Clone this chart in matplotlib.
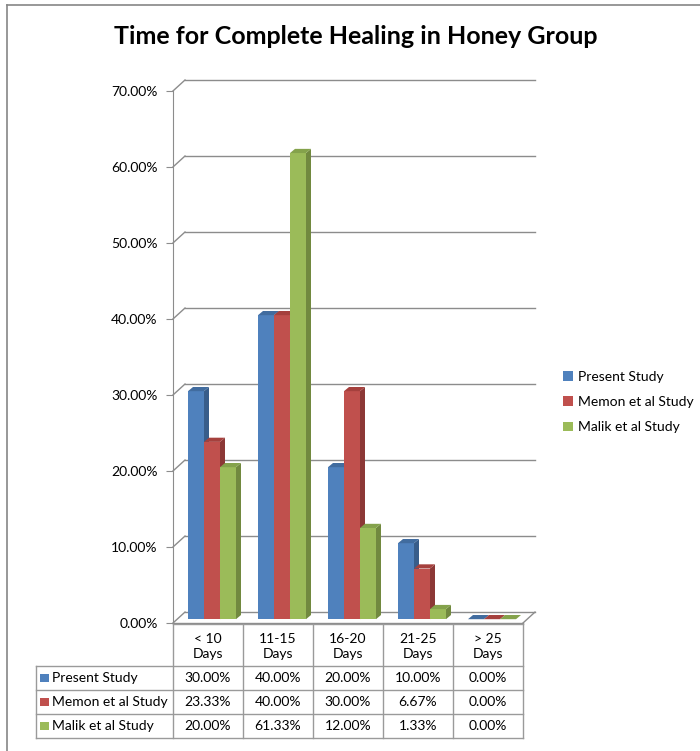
import matplotlib
matplotlib.use("Agg")
import matplotlib.pyplot as plt
from matplotlib.patches import Polygon, Rectangle
from matplotlib.lines import Line2D

plt.rcParams['font.family'] = ['Lato', 'DejaVu Sans']

# data
categories = ['< 10\nDays', '11-15\nDays', '16-20\nDays', '21-25\nDays', '> 25\nDays']
series_names = ['Present Study', 'Memon et al Study', 'Malik et al Study']
present = [30.00, 40.00, 20.00, 10.00, 0.00]
memon = [23.33, 40.00, 30.00, 6.67, 0.00]
malik = [20.00, 61.33, 12.00, 1.33, 0.00]
series_vals = [present, memon, malik]
yticks = [0, 10, 20, 30, 40, 50, 60, 70]

front_cols = ['#4F81BD', '#C0504D', '#9BBB59']
side_cols = ['#385D8A', '#8C3836', '#71893F']
top_cols = ['#416C9F', '#A5403D', '#84A24B']
grid_col = '#8C8C8C'

W, H = 700, 751
fig = plt.figure(figsize=(W / 100, H / 100), dpi=100)

def fx(px):
    return px / W

def fy(py):
    return 1 - py / H

# plot area (pixel positions of the reference)
ax_l, ax_r, ax_t, ax_b = 173, 535, 80, 623
ax = fig.add_axes([fx(ax_l), fy(ax_b), fx(ax_r - ax_l), (ax_b - ax_t) / H])
n = len(categories)
DX, DY = 12 / 70, 1.44          # wall depth in data units
ax.set_xlim(0, n + DX)
ax.set_ylim(0, 70 + DY)

for s in ['top', 'right', 'bottom']:
    ax.spines[s].set_visible(False)
ax.spines['left'].set_bounds(0, 70)
ax.spines['left'].set_color(grid_col)
ax.set_xticks([])
ax.set_yticks(yticks)
ax.set_yticklabels([f"{v:.2f}%" for v in yticks], fontsize=10)
ax.tick_params(axis='y', direction='out', length=5, color=grid_col, pad=6)

# back wall gridlines and floor
for v in yticks:
    ax.plot([0, DX], [v, v + DY], color=grid_col, lw=1, zorder=1, clip_on=False)
    ax.plot([DX, n + DX], [v + DY, v + DY], color=grid_col, lw=1, zorder=1, clip_on=False)
ax.plot([0, n], [0, 0], color=grid_col, lw=1, zorder=1, clip_on=False)
ax.plot([n, n + DX], [0, DY], color=grid_col, lw=1, zorder=1, clip_on=False)

# 3D-looking bars
bw = 16 / 70
sx, sy = 4 / 70, 0.5           # bar placement inside the depth
bdx, bdy = 5 / 70, 0.55        # bar depth
start = (1 - 3 * bw) / 2
z = 3
handles = []
for i in range(n):
    for j, vals in enumerate(series_vals):
        x0 = i + start + j * bw + sx
        v = vals[i]
        b = ax.bar(x0, v, width=bw, bottom=sy, align='edge', color=front_cols[j],
                   lw=0, zorder=z, clip_on=False)
        side = Polygon([(x0 + bw, sy), (x0 + bw + bdx, sy + bdy),
                        (x0 + bw + bdx, sy + v + bdy), (x0 + bw, sy + v)],
                       closed=True, fc=side_cols[j], ec='none', zorder=z, clip_on=False)
        top = Polygon([(x0, sy + v), (x0 + bw, sy + v),
                       (x0 + bw + bdx, sy + v + bdy), (x0 + bdx, sy + v + bdy)],
                      closed=True, fc=top_cols[j], ec='none', zorder=z, clip_on=False)
        ax.add_patch(side)
        ax.add_patch(top)
        if i == 0:
            handles.append(b)
        z += 1

fig.legend(handles, series_names, loc='upper left',
           bbox_to_anchor=(fx(556), fy(364)), frameon=False, fontsize=10,
           handlelength=0.7, handleheight=0.7, handletextpad=0.4,
           labelspacing=0.95, borderpad=0)

# data table below the plot
tb_t, tb_b = 624, 738
tax = fig.add_axes([fx(ax_l), fy(tb_b), fx(ax_r - ax_l), (tb_b - tb_t) / H])
tax.set_xlim(0, n + DX)
tax.set_ylim(tb_b - tb_t, 0)
tax.axis('off')
tcol = '#9A9A9A'
lab_x = (36 - ax_l) / 70
hdr = 42
rowh = 24
tax.plot([0, n], [0, 0], color=tcol, lw=1, clip_on=False)
for k in range(4):
    yy = hdr + k * rowh
    tax.plot([lab_x, n], [yy, yy], color=tcol, lw=1, clip_on=False)
tax.plot([lab_x, lab_x], [hdr, hdr + 3 * rowh], color=tcol, lw=1, clip_on=False)
for i in range(n + 1):
    tax.plot([i, i], [0, hdr + 3 * rowh], color=tcol, lw=1, clip_on=False)

for i, c in enumerate(categories):
    tax.text(i + 0.5, hdr / 2 + 1.5, c, ha='center', va='center', fontsize=10,
             linespacing=1.3)
for j, vals in enumerate(series_vals):
    yc = hdr + j * rowh + rowh / 2
    tax.add_patch(Rectangle((lab_x + 4 / 70, yc - 4), 9 / 70, 8, fc=front_cols[j],
                            ec='none', clip_on=False))
    tax.text(lab_x + 16 / 70, yc, series_names[j], ha='left', va='center', fontsize=10)
    for i, v in enumerate(vals):
        tax.text(i + 0.5, yc, f"{v:.2f}%", ha='center', va='center', fontsize=10)

# title
fig.text(fx(356), fy(36), 'Time for Complete Healing in Honey Group',
         ha='center', va='center', fontsize=18, fontweight='bold')

# chart border (top and left visible)
fig.add_artist(Line2D([fx(7), 1], [fy(5), fy(5)], color='#868686', lw=1.2))
fig.add_artist(Line2D([fx(7), fx(7)], [fy(5), 0], color='#868686', lw=1.2))

fig.savefig('out.png', dpi=100)
